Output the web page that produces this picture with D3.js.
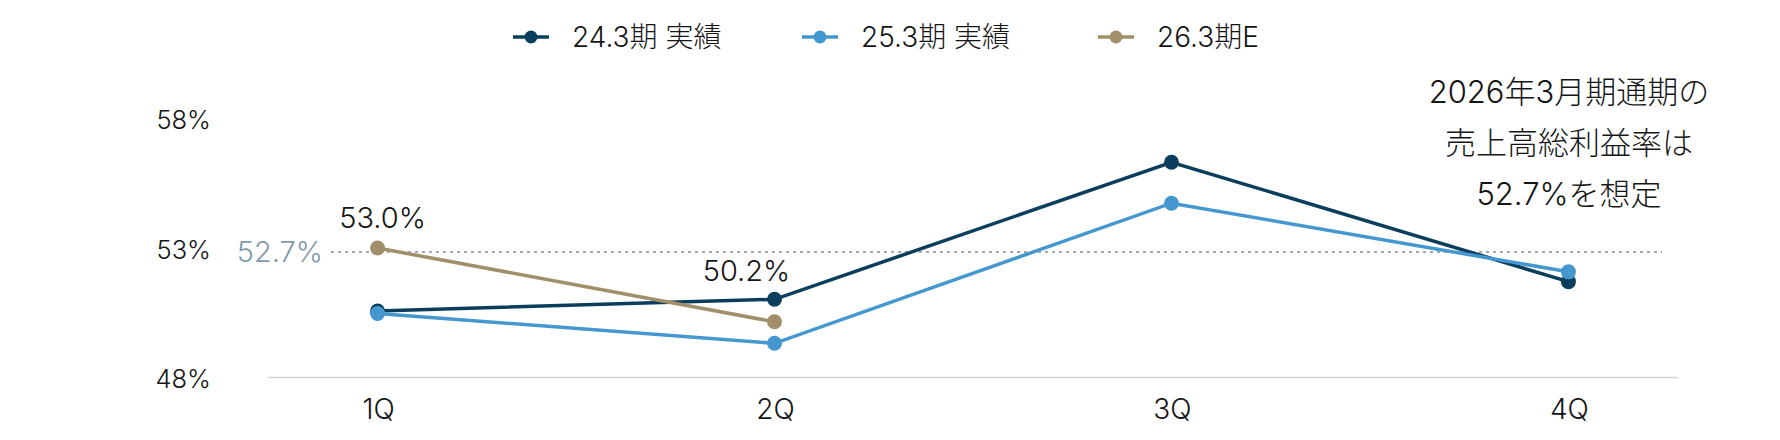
<html>
<head>
<meta charset="utf-8">
<title>売上高総利益率</title>
<script src="https://cdn.jsdelivr.net/npm/d3@7/dist/d3.min.js"></script>
<style>
    body { margin: 0; background: #fff; }
    svg text { font-family: Inter, "Noto Sans CJK JP", sans-serif; font-weight: 300; fill: #151515; }
</style>
</head>
<body>
<div id="chart"></div>

<script type="text/javascript">
// data
var quarters = ["1Q", "2Q", "3Q", "4Q"];
var seriesNames = ["24.3期 実績", "25.3期 実績", "26.3期E"];
var seriesColors = ["#0b3d5c", "#4598cf", "#a08f68"];
var fy24 = [50.57, 51.02, 56.31, 51.70];
var fy25 = [50.47, 49.32, 54.73, 52.08];
var fy26 = [53.0, 50.15];
var yTicks = [48, 53, 58];
var refValue = 52.85;
var refLabel = "52.7%";
var pointLabels = [{ s: 2, i: 0, text: "53.0%", dx: 5, dy: -31 },
                   { s: 0, i: 1, text: "50.2%", dx: -28, dy: -29 }];
var noteLines = ["2026年3月期通期の", "売上高総利益率は", "52.7%を想定"];

var width = 1780, height = 440;

var svg = d3.select("#chart").append("svg")
    .attr("width", width)
    .attr("height", height);

var x = d3.scalePoint().domain(quarters).range([268, 1678]).padding(0.276);
var y = d3.scaleLinear().domain([48, 58]).range([377.5, 118.5]);

// baseline
svg.append("line")
    .attr("x1", 268).attr("x2", 1678)
    .attr("y1", y(48)).attr("y2", y(48))
    .style("stroke", "#d3d3d3").style("stroke-width", 1.5);

// y tick labels
svg.selectAll(".ytick").data(yTicks).enter().append("text")
    .attr("class", "ytick")
    .attr("x", 211)
    .attr("y", function (d) { return y(d) + 1; })
    .attr("text-anchor", "end")
    .attr("dominant-baseline", "central")
    .style("font-size", "25.5px")
    .text(function (d) { return d + "%"; });

// x labels
svg.selectAll(".xtick").data(quarters).enter().append("text")
    .attr("class", "xtick")
    .attr("x", function (d) { return x(d) + 1; })
    .attr("y", 409)
    .attr("text-anchor", "middle")
    .attr("dominant-baseline", "central")
    .style("font-size", "28px")
    .text(function (d) { return d; });

// reference line
svg.append("line")
    .attr("x1", 331).attr("x2", 1662)
    .attr("y1", y(refValue)).attr("y2", y(refValue))
    .style("stroke", "#7d8e9a").style("stroke-width", 1.5)
    .style("stroke-dasharray", "3,4");

svg.append("text")
    .attr("x", 323)
    .attr("y", y(refValue))
    .attr("text-anchor", "end")
    .attr("dominant-baseline", "central")
    .style("font-size", "29px")
    .style("fill", "#7f9bad")
    .text(refLabel);

// series
var allSeries = [fy24, fy25, fy26];
var line = d3.line()
    .x(function (d, i) { return x(quarters[i]); })
    .y(function (d) { return y(d); });

allSeries.forEach(function (vals, s) {
    var g = svg.append("g");
    g.append("path")
        .datum(vals)
        .attr("d", line)
        .style("fill", "none")
        .style("stroke", seriesColors[s])
        .style("stroke-width", 3.5);
    g.selectAll("circle").data(vals).enter().append("circle")
        .attr("cx", function (d, i) { return x(quarters[i]); })
        .attr("cy", function (d) { return y(d); })
        .attr("r", 7.5)
        .style("fill", seriesColors[s]);
});

// point labels
pointLabels.forEach(function (p) {
    var v = allSeries[p.s][p.i];
    svg.append("text")
        .attr("x", x(quarters[p.i]) + p.dx)
        .attr("y", y(v) + p.dy)
        .attr("text-anchor", "middle")
        .attr("dominant-baseline", "central")
        .style("font-size", "29px")
        .text(p.text);
});

// note
svg.selectAll(".note").data(noteLines).enter().append("text")
    .attr("class", "note")
    .attr("x", 1569)
    .attr("y", function (d, i) { return 91 + i * 51; })
    .attr("text-anchor", "middle")
    .attr("dominant-baseline", "central")
    .style("font-size", "31px")
    .text(function (d) { return d; });

// legend
var legendX = [531, 820, 1116];
var leg = svg.selectAll(".legend").data(seriesNames).enter().append("g")
    .attr("class", "legend")
    .attr("transform", function (d, i) { return "translate(" + legendX[i] + ",37)"; });
leg.append("line")
    .attr("x1", -18).attr("x2", 18)
    .style("stroke", function (d, i) { return seriesColors[i]; })
    .style("stroke-width", 3.5);
leg.append("circle")
    .attr("r", 6.5)
    .style("fill", function (d, i) { return seriesColors[i]; });
leg.append("text")
    .attr("x", 41)
    .attr("dominant-baseline", "central")
    .style("font-size", "28px")
    .text(function (d) { return d; });
</script>
</body>
</html>
